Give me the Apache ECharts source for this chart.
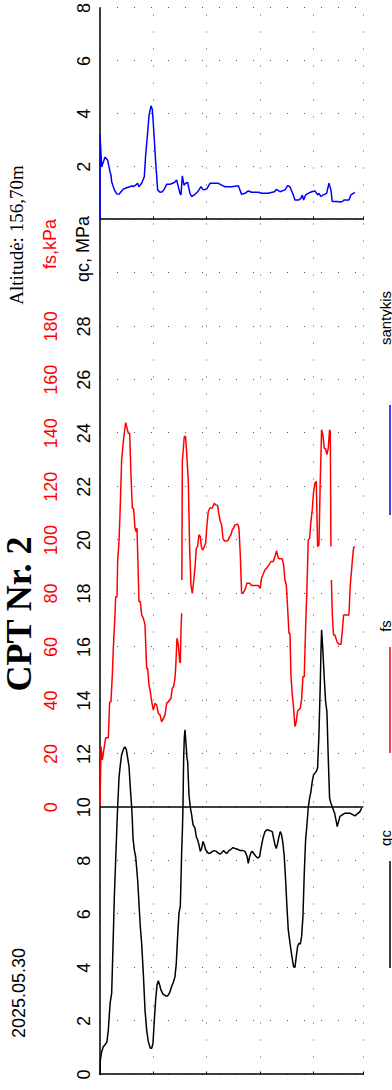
<!DOCTYPE html>
<html>
<head>
<meta charset="utf-8">
<script src="https://cdn.jsdelivr.net/npm/echarts@6/dist/echarts.min.js"></script>
<style>
  html, body { margin: 0; padding: 0; background: #fff; overflow: hidden; }
  #page { position: absolute; left: 0; top: 0; width: 392px; height: 1090px; overflow: hidden; }
  /* The sounding is laid out in landscape and turned a quarter turn */
  #chart { position: absolute; left: 0; top: 0; width: 1090px; height: 392px;
           transform-origin: 0 0; transform: translate(0, 1090px) rotate(-90deg); }
</style>
</head>
<body>
<div id="page"><div id="chart"></div></div>
<script>
// ---- Sounding data (depth in m) ----
const qcDepth = [0,0.006,0.031,0.0625,0.106,0.131,0.156,0.181,0.194,0.219,0.244,0.269,0.294,0.319,0.331,0.356,0.381,0.406,0.444,0.469,0.494,0.519,0.544,0.569,0.594,0.606,0.619,0.644,0.669,0.706,0.731,0.756,0.781,0.8125,0.844,0.875,0.906,0.944,0.969,0.994,1.019,1.044,1.069,1.094,1.119,1.144,1.181,1.231,1.269,1.306,1.344,1.381,1.406,1.431,1.456,1.481,1.506,1.519,1.531,1.544,1.556,1.569,1.581,1.594,1.619,1.631,1.644,1.656,1.669,1.694,1.719,1.744,1.781,1.806,1.831,1.856,1.881,1.906,1.931,1.956,1.981,2.031,2.069,2.106,2.144,2.181,2.219,2.256,2.281,2.319,2.356,2.381,2.419,2.456,2.494,2.531,2.581,2.631,2.681,2.719,2.756,2.781,2.806,2.831,2.856,2.881,2.919,2.956,2.994,3.019,3.056,3.094,3.131,3.181,3.231,3.256,3.281,3.306,3.331,3.356,3.381,3.406,3.431,3.456,3.481,3.506,3.531,3.556,3.581,3.606,3.631,3.656,3.681,3.706,3.731,3.756,3.781,3.806,3.831,3.856,3.881,3.906,3.931,3.956,3.981,4.006,4.031,4.056,4.081,4.106,4.131,4.144,4.156,4.181,4.206,4.231,4.256,4.281,4.306,4.331,4.356,4.40,4.45,4.50,4.594,4.6875,4.781,4.875,4.906];
const qcValue = [0,0.54,0.85,1.04,1.14,1.23,1.67,2.41,2.73,3.04,4.79,6.65,8.03,9.40,10.0,11.09,11.59,11.97,12.20,12.26,12.16,11.84,11.53,10.72,10.0,9.53,8.84,8.40,8.15,7.28,6.41,5.53,4.91,3.79,2.42,1.67,1.23,0.98,0.98,1.17,2.04,2.79,3.35,3.51,3.35,3.16,3.01,2.94,2.94,3.06,3.29,3.48,3.66,4.16,5.16,6.04,6.28,7.28,8.28,9.03,10.0,11.84,12.59,12.90,12.22,11.84,11.72,11.09,10.47,10.0,9.72,9.35,9.22,8.90,8.78,8.60,8.35,8.46,8.72,8.60,8.41,8.28,8.28,8.35,8.38,8.35,8.28,8.25,8.30,8.38,8.30,8.28,8.38,8.43,8.49,8.46,8.43,8.38,8.38,8.35,8.18,7.90,8.15,8.30,8.35,8.28,8.18,8.10,8.15,8.46,8.84,9.09,9.16,9.13,9.09,8.84,8.60,8.46,8.65,8.90,9.09,8.97,8.65,8.15,7.28,6.28,5.41,5.03,4.66,4.34,4.03,4.01,4.41,4.79,4.91,4.88,5.16,5.91,7.53,8.78,9.34,10.0,10.34,10.59,10.97,11.22,11.28,11.34,11.47,12.72,14.58,15.83,16.64,15.83,14.83,13.96,13.58,11.84,10.34,10.15,10.02,9.78,9.28,9.66,9.78,9.78,9.68,9.84,9.97];

const fsDepth = [0,0.019,0.044,0.081,0.106,0.156,0.181,0.206,0.231,0.25,0.281,0.294,0.319,0.331,0.356,0.375,0.406,0.4375,0.481,0.506,0.531,0.556,0.581,0.606,0.631,0.656,0.681,0.694,0.706,0.731,0.756,0.781,0.8125,0.844,0.875,0.894,0.919,0.944,0.969,1.0,1.031,1.0625,1.094,1.125,1.156,1.1875,1.219,1.25,1.294,1.331,1.356,1.381,1.406,1.419,1.444,1.469,1.494,1.506,1.519,1.531,1.533,1.535,1.544,1.581,1.606,1.631,1.656,1.681,1.706,1.731,1.756,1.781,1.806,1.831,1.856,1.881,1.906,1.931,1.956,1.981,2.006,2.031,2.0625,2.106,2.144,2.169,2.206,2.231,2.256,2.281,2.306,2.331,2.381,2.406,2.431,2.456,2.481,2.506,2.531,2.581,2.606,2.631,2.656,2.681,2.719,2.756,2.806,2.844,2.969,3.006,3.031,3.0625,3.094,3.125,3.169,3.206,3.25,3.281,3.3125,3.344,3.375,3.419,3.444,3.469,3.494,3.519,3.544,3.5625,3.581,3.606,3.631,3.656,3.681,3.706,3.731,3.756,3.781,3.806,3.831,3.856,3.881,3.906,3.931,3.956,3.981,4.006,4.031,4.056,4.081,4.106,4.131,4.156,4.181,4.206,4.231,4.256,4.281,4.306,4.319,4.331,4.335,4.34,4.356,4.369,4.381,4.406,4.444,4.481,4.519,4.544,4.569,4.669,4.694,4.719,4.731,4.756,4.781];
const fsValue = [0,22.7,17.7,22.7,26.0,26.0,39.3,39.6,49.5,59.5,72.0,78.8,78.8,92.0,99.5,109.5,130.0,137.0,144.0,142.0,140.0,140.0,124.4,112.0,111.8,104.5,103.0,104.5,104.5,77.0,77.0,72.0,70.8,68.3,52.0,52.0,45.8,43.3,39.6,36.4,38.9,38.3,35.2,34.6,32.0,33.3,34.6,38.9,39.8,40.8,44.6,45.2,48.3,52.0,63.3,60.8,54.6,54.0,65.8,72.6,null,85.1,129.4,138.8,138.8,130.7,122.0,97.0,83.2,80.1,84.5,89.5,97.0,97.6,102.0,101.3,97.0,96.3,97.6,98.8,105.7,110.7,112.0,112.0,113.8,113.2,113.0,109.5,107.0,105.7,100.7,99.7,99.7,100.1,101.3,102.0,103.9,104.5,105.7,106.0,104.5,94.5,80.1,80.1,81.4,83.9,83.9,83.0,83.0,82.0,85.8,87.3,88.9,89.5,90.7,92.0,92.0,93.9,96.0,93.2,93.0,93.0,90.7,85.1,83.2,74.5,65.1,65.1,49.5,42.1,37.1,30.2,32.1,36.1,36.5,37.1,40.3,48.9,48.9,67.0,82.0,100.1,100.7,107.0,111.4,118.2,121.3,122.0,97.6,98.2,122.0,141.3,139.4,134.4,134.2,132.0,134.4,141.3,140.7,97.6,null,85.1,72.6,67.6,64.5,64.5,62.0,61.0,61.0,65.8,72.0,72.0,83.2,88.9,92.0,97.2,97.6];

const ratioDepth = [0,0.001,0.031,0.094,0.144,0.169,0.188,0.206,0.219,0.269,0.313,0.356,0.394,0.438,0.50,0.5625,0.606,0.625,0.669,0.706,0.731,0.781,0.831,0.856,0.894,0.919,0.956,0.981,1.006,1.044,1.081,1.125,1.169,1.206,1.25,1.3125,1.356,1.394,1.4375,1.50,1.519,1.544,1.575,1.606,1.644,1.6875,1.719,1.769,1.844,1.894,1.9375,2.00,2.0625,2.219,2.281,2.344,2.469,2.594,2.656,2.719,2.781,2.844,2.969,3.031,3.156,3.269,3.3125,3.375,3.469,3.519,3.5625,3.625,3.656,3.731,3.769,3.794,3.819,3.856,3.906,3.969,4.031,4.081,4.106,4.144,4.1875,4.25,4.294,4.331,4.356,4.4375,4.50,4.544,4.581,4.669,4.706,4.75,4.781];
const ratioValue = [0,3.20,1.99,2.36,2.24,1.99,1.80,1.68,1.43,1.12,0.97,0.95,1.05,1.15,1.20,1.24,1.28,1.24,1.30,1.37,1.24,1.37,1.62,2.43,3.30,3.92,4.30,4.17,3.43,2.18,1.12,1.03,1.05,1.15,1.33,1.33,1.37,1.40,1.49,0.99,0.93,1.65,1.30,1.37,1.40,0.99,0.87,0.93,1.08,1.24,1.12,1.15,1.37,1.37,1.30,1.24,1.24,1.28,0.95,0.99,1.08,1.03,1.03,0.99,0.99,1.05,1.14,1.05,1.12,1.28,1.24,0.93,0.74,0.74,0.80,0.93,0.74,0.93,0.99,1.05,1.08,0.93,0.99,0.87,0.93,0.99,1.37,1.12,0.68,0.68,0.66,0.68,0.74,0.74,0.93,0.99,1.03];

// ---- Axis tick labels ----
const qcTicks = [0,2,4,6,8,10,12,14,16,18,20,22,24,26,28];
const fsTicks = [0,20,40,60,80,100,120,140,160,180];
const ratioTicks = [2,4,6,8];

const seriesNames = ['qc', 'fs', 'santykis'];
const seriesColors = ['#000000', '#ff0000', '#0000ff'];

const titleText = 'CPT Nr. 2';
const altitudeText = 'Altitudė: 156,70m';
const dateText = '2025.05.30';
const qcUnit = 'qc, MPa';
const fsUnit = 'fs,kPa';

const toPairs = (depths, vals) => depths.map((d, i) => vals[i] == null ? '-' : [vals[i], d]);

const dotted = { color: '#555', width: 1, type: [1, 16] };
const depthMax = 4.94;
const SANS = 'Liberation Sans, Arial, sans-serif';
const SERIF = 'Liberation Serif, Times New Roman, serif';

const G0 = { left: 15.5, top: 100, width: 855, height: 263.4 };
const G1 = { left: 870.5, top: 100, width: 213.8, height: 263.4 };

const depthAxis = (gi, showLine) => ({
  type: 'value', gridIndex: gi, inverse: true, min: 0, max: depthMax, interval: 1,
  axisLine: { show: showLine, lineStyle: { color: '#000', width: 1.5 } },
  axisTick: { show: showLine, inside: true, length: 3, lineStyle: { color: '#000' } },
  axisLabel: { show: false },
  splitLine: { show: true, lineStyle: dotted }
});

const chart = echarts.init(document.getElementById('chart'), null, { renderer: 'svg' });

// legend drawn as short line samples with their names
const legendLines = [
  { x1: 122, x2: 229, tx: 252 },
  { x1: 337, x2: 443, tx: 464 },
  { x1: 575, x2: 685, tx: 772 }
];
const legendGraphics = [];
[0, 1, 2].forEach(i => {
  legendGraphics.push({ type: 'line', silent: true,
    shape: { x1: legendLines[i].x1, y1: 390, x2: legendLines[i].x2, y2: 390 },
    style: { stroke: seriesColors[i], lineWidth: 1.5 } });
  legendGraphics.push({ type: 'text', silent: true,
    style: { x: legendLines[i].tx, y: 385, text: seriesNames[i], align: 'center', verticalAlign: 'middle',
             font: '15px ' + SANS, fill: '#000' } });
});

chart.setOption({
  animation: false,
  backgroundColor: '#fff',
  grid: [
    Object.assign({ containLabel: false }, G0),
    Object.assign({ containLabel: false }, G1)
  ],
  xAxis: [
    { type: 'value', gridIndex: 0, position: 'top', min: 0, max: 32, interval: 2,
      axisLine: { show: true, onZero: false, lineStyle: { color: '#000', width: 1.5 } },
      axisTick: { show: false },
      axisLabel: { color: '#000', fontSize: 18, fontFamily: SANS, margin: 7,
        formatter: v => qcTicks.includes(v) ? String(v) : '' },
      splitLine: { show: true, lineStyle: dotted } },
    { type: 'value', gridIndex: 0, position: 'top', offset: 33, min: -100, max: 220, interval: 20,
      axisLine: { show: false }, axisTick: { show: false }, splitLine: { show: false },
      axisLabel: { color: '#ff0000', fontSize: 18, fontFamily: SANS, margin: 7,
        formatter: v => fsTicks.includes(v) ? String(v) : '' } },
    { type: 'value', gridIndex: 1, position: 'top', min: 0, max: 8, interval: 2,
      axisLine: { show: true, onZero: false, lineStyle: { color: '#000', width: 1.5 } },
      axisTick: { show: false },
      axisLabel: { color: '#000', fontSize: 18, fontFamily: SANS, margin: 7,
        formatter: v => ratioTicks.includes(v) ? String(v) : '' },
      splitLine: { show: true, lineStyle: dotted } }
  ],
  yAxis: [ depthAxis(0, true), depthAxis(1, true) ],
  series: [
    { name: seriesNames[0], type: 'line', xAxisIndex: 0, yAxisIndex: 0, data: toPairs(qcDepth, qcValue),
      showSymbol: false, lineStyle: { color: seriesColors[0], width: 1.5 }, itemStyle: { color: seriesColors[0] } },
    { name: seriesNames[1], type: 'line', xAxisIndex: 1, yAxisIndex: 0, data: toPairs(fsDepth, fsValue),
      showSymbol: false, connectNulls: false, lineStyle: { color: seriesColors[1], width: 1.5 }, itemStyle: { color: seriesColors[1] },
      markLine: { silent: true, symbol: 'none', label: { show: false },
        lineStyle: { color: '#000', width: 1.5, type: 'solid' }, data: [{ xAxis: 0 }] } },
    { name: seriesNames[2], type: 'line', xAxisIndex: 2, yAxisIndex: 1, data: toPairs(ratioDepth, ratioValue),
      showSymbol: false, lineStyle: { color: seriesColors[2], width: 1.5 }, itemStyle: { color: seriesColors[2] } }
  ],
  graphic: [
    { type: 'text', silent: true, style: { x: 476, y: 19, text: titleText, align: 'center', verticalAlign: 'middle',
        font: 'bold 36px ' + SERIF, fill: '#000' } },
    { type: 'text', silent: true, style: { x: 855, y: 16, text: altitudeText, align: 'center', verticalAlign: 'middle',
        font: '19px ' + SERIF, fill: '#000' } },
    { type: 'text', silent: true, style: { x: 97, y: 18.5, text: dateText, align: 'center', verticalAlign: 'middle',
        font: '18px ' + SANS, fill: '#000' } },
    { type: 'text', silent: true, style: { x: 841, y: 83, text: qcUnit, align: 'center', verticalAlign: 'middle',
        font: '18px ' + SANS, fill: '#000' } },
    { type: 'text', silent: true, style: { x: 846, y: 50, text: fsUnit, align: 'center', verticalAlign: 'middle',
        font: '18px ' + SANS, fill: '#ff0000' } }
  ].concat(legendGraphics)
});
</script>
</body>
</html>
